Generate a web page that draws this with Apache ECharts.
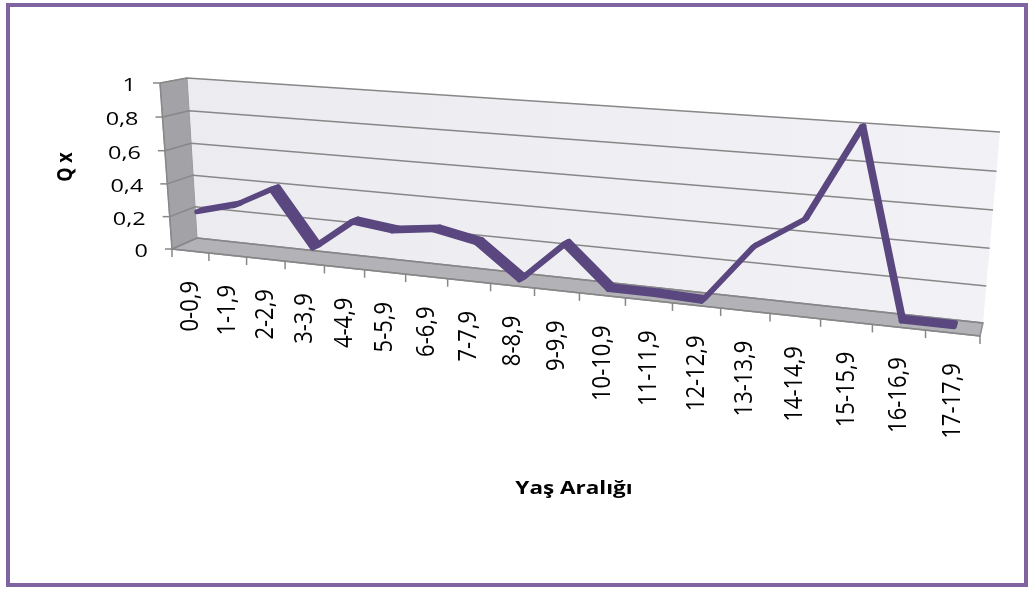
<!DOCTYPE html>
<html>
<head>
<meta charset="utf-8">
<script src="https://cdn.jsdelivr.net/npm/echarts@6/dist/echarts.min.js"></script>
<style>
  html, body { margin: 0; padding: 0; background: #ffffff; }
  #chart { width: 1032px; height: 592px; }
</style>
</head>
<body>
<div id="chart"></div>
<script>
// Age groups (categories) and the probability of dying in each group
const categories = ['0-0,9', '1-1,9', '2-2,9', '3-3,9', '4-4,9', '5-5,9', '6-6,9', '7-7,9', '8-8,9',
  '9-9,9', '10-10,9', '11-11,9', '12-12,9', '13-13,9', '14-14,9', '15-15,9', '16-16,9', '17-17,9'];
const qx = [0.22, 0.28, 0.40, 0.07, 0.25, 0.22, 0.25, 0.20, 0.01,
  0.24, 0.01, 0.01, 0.0, 0.32, 0.49, 0.99, 0.01, 0.01];
const yTicks = [0, 0.2, 0.4, 0.6, 0.8, 1];
const yTickLabels = ['0', '0,2', '0,4', '0,6', '0,8', '1'];
const xTitle = 'Yaş Aralığı';
const yTitle = 'Q x';

// ---- 3D-look projection: unit square -> quadrilateral (projective map) ----
function squareToQuad(p0, p1, p2, p3) {
  const dx1 = p1[0] - p2[0], dx2 = p3[0] - p2[0], dx3 = p0[0] - p1[0] + p2[0] - p3[0];
  const dy1 = p1[1] - p2[1], dy2 = p3[1] - p2[1], dy3 = p0[1] - p1[1] + p2[1] - p3[1];
  const det = dx1 * dy2 - dx2 * dy1;
  const g = (dx3 * dy2 - dx2 * dy3) / det;
  const h = (dx1 * dy3 - dx3 * dy1) / det;
  const a = p1[0] - p0[0] + g * p1[0], b = p3[0] - p0[0] + h * p3[0], c = p0[0];
  const d = p1[1] - p0[1] + g * p1[1], e = p3[1] - p0[1] + h * p3[1], f = p0[1];
  return function (u, v) {
    const w = g * u + h * v + 1;
    return [(a * u + b * v + c) / w, (d * u + e * v + f) / w];
  };
}
// back wall (depth 0) and front plane (depth 1): bottom-left, bottom-right, top-right, top-left
const backPlane = squareToQuad([197, 238], [983, 323], [1000, 132], [187, 78]);
const frontPlane = squareToQuad([172, 249], [980, 336], [998, 134], [160, 83]);
function project(u, v, z) {
  const b = backPlane(u, v), f = frontPlane(u, v);
  return [b[0] + (f[0] - b[0]) * z, b[1] + (f[1] - b[1]) * z];
}
// pixel position on the (hidden) flat grid -> unit coordinates
function toUnit(params, pt) {
  const cs = params.coordSys;
  return [(pt[0] - cs.x) / cs.width, (cs.y + cs.height - pt[1]) / cs.height];
}

const FONT = '"Open Sans", "Noto Sans", sans-serif';
const GRID_COLOR = '#878787';
const RIBBON_COLOR = '#5A477F';
const Z_BACK = 0.35, Z_FRONT = 0.65;

function renderFrame(params, api) {
  const kids = [];
  // walls
  kids.push({ type: 'polygon', shape: { points: [project(0, 0, 0), project(1, 0, 0), project(1, 1, 0), project(0, 1, 0)] },
    style: { fill: new echarts.graphic.LinearGradient(0, 0, 1, 0, [
      { offset: 0, color: '#ECEBF0' }, { offset: 1, color: '#F2F1F5' }]) } });
  kids.push({ type: 'polygon', shape: { points: [project(0, 0, 0), project(0, 1, 0), project(0, 1, 1), project(0, 0, 1)] },
    style: { fill: '#A3A2A7', stroke: '#9A999E', lineWidth: 1 } });
  kids.push({ type: 'polygon', shape: { points: [project(0, 0, 0), project(1, 0, 0), project(1, 0, 1), project(0, 0, 1)] },
    style: { fill: '#B3B2B7', stroke: '#8E8D92', lineWidth: 1.5 } });

  // value gridlines, ticks and labels
  yTicks.forEach(function (t, k) {
    const v = toUnit(params, api.coord([0, t]))[1];
    const f = project(0, v, 1);
    kids.push({ type: 'polyline', shape: { points: [project(0, v, 1), project(0, v, 0), project(1, v, 0)] },
      style: { stroke: GRID_COLOR, lineWidth: 1.5, fill: null } });
    kids.push({ type: 'line', shape: { x1: f[0] - 7, y1: f[1], x2: f[0], y2: f[1] },
      style: { stroke: GRID_COLOR, lineWidth: 1.5 } });
    kids.push({ type: 'text', x: f[0] - 24, y: f[1] + 3, scaleX: 1.3,
      style: { text: yTickLabels[k], font: '18px ' + FONT, fill: '#000', align: 'right', verticalAlign: 'middle' } });
  });
  // value axis line (front edge of side wall)
  kids.push({ type: 'polyline', shape: { points: [project(0, 0, 1), project(0, 1, 1)] },
    style: { stroke: GRID_COLOR, lineWidth: 1.5, fill: null } });
  // category axis line
  kids.push({ type: 'polyline', shape: { points: [project(0, 0, 1), project(1, 0, 1)] },
    style: { stroke: GRID_COLOR, lineWidth: 1.5, fill: null } });

  // category ticks and labels
  const band = api.size([1, 0])[0];
  for (let i = 0; i <= categories.length; i++) {
    const c = api.coord([Math.min(i, categories.length - 1), 0]);
    const edge = i < categories.length ? c[0] - band / 2 : c[0] + band / 2;
    const u = toUnit(params, [edge, c[1]])[0];
    const p = project(u, 0, 1);
    kids.push({ type: 'line', shape: { x1: p[0], y1: p[1], x2: p[0], y2: p[1] + 8 },
      style: { stroke: GRID_COLOR, lineWidth: 1.5 } });
  }
  categories.forEach(function (name, i) {
    const u = toUnit(params, api.coord([i, 0]))[0];
    const p = project(u, 0, 1);
    kids.push({ type: 'text', x: p[0], y: p[1] + 30, rotation: Math.PI / 2, scaleY: 1.15,
      style: { text: name, font: '22px ' + FONT, fill: '#000', align: 'right', verticalAlign: 'middle' } });
  });
  return { type: 'group', children: kids };
}

function renderRibbon(params, api) {
  const i = params.dataIndex;
  if (i >= qx.length - 1) return null;
  const a = toUnit(params, api.coord([i, api.value(1)]));
  const b = toUnit(params, api.coord([i + 1, qx[i + 1]]));
  const pts = [project(a[0], a[1], Z_BACK), project(b[0], b[1], Z_BACK),
    project(b[0], b[1], Z_FRONT), project(a[0], a[1], Z_FRONT)];
  return { type: 'polygon', shape: { points: pts },
    style: { fill: RIBBON_COLOR, stroke: RIBBON_COLOR, lineWidth: 5, lineJoin: 'round' } };
}

const chart = echarts.init(document.getElementById('chart'), null, { renderer: 'canvas' });
chart.setOption({
  animation: false,
  backgroundColor: '#ffffff',
  grid: { left: 0, top: 0, right: 0, bottom: 0, show: false },
  xAxis: { type: 'category', data: categories, show: false },
  yAxis: { type: 'value', min: 0, max: 1, interval: 0.2, show: false },
  series: [
    { type: 'custom', name: 'frame', silent: true, data: [[0, 0]], renderItem: renderFrame, z: 1 },
    { type: 'custom', name: 'Q x', silent: true, data: qx.map(function (v, i) { return [i, v]; }),
      renderItem: renderRibbon, z: 2 }
  ],
  graphic: [
    { type: 'rect', shape: { x: 8, y: 5, width: 1018, height: 580 },
      style: { fill: null, stroke: '#8064A2', lineWidth: 4 }, z: 10 },
    { type: 'text', x: 574, y: 489, scaleX: 1.25,
      style: { text: xTitle, font: 'bold 18px ' + FONT, fill: '#000', align: 'center', verticalAlign: 'middle' } },
    { type: 'text', x: 66, y: 167, rotation: Math.PI / 2, scaleY: 1.2,
      style: { text: yTitle, font: 'bold 18px ' + FONT, fill: '#000', align: 'center', verticalAlign: 'middle' } }
  ]
});
</script>
</body>
</html>
